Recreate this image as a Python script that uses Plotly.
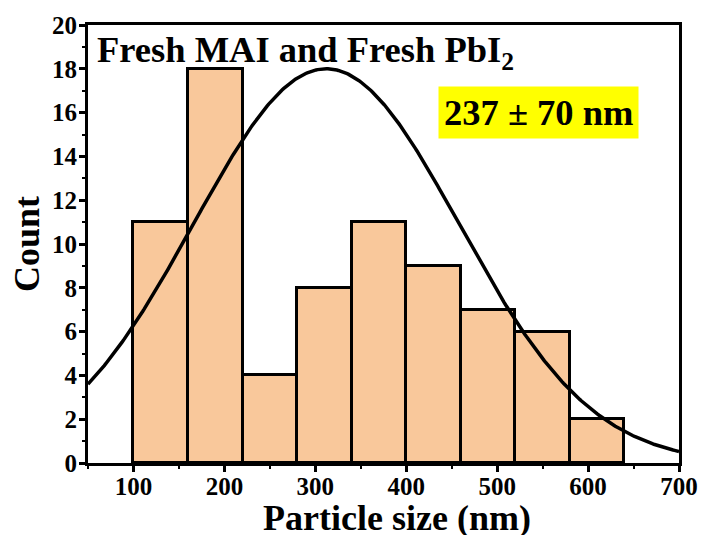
import numpy as np
import plotly.graph_objects as go

# Histogram data (bin left edges, nm) and counts
bin_left = [100, 160, 220, 280, 340, 400, 460, 520, 580]
bin_width = 60
counts = [11, 18, 4, 8, 11, 9, 7, 6, 2]

# Normal fit parameters
fit_center = 312
fit_sigma = 146
fit_amplitude = 18

x_ticks = [100, 200, 300, 400, 500, 600, 700]
y_ticks = [0, 2, 4, 6, 8, 10, 12, 14, 16, 18, 20]

centers = [b + bin_width / 2 for b in bin_left]
xf = np.linspace(50, 700, 400)
yf = fit_amplitude * np.exp(-(xf - fit_center) ** 2 / (2 * fit_sigma ** 2))

FONT = "Liberation Serif"

fig = go.Figure()
fig.add_trace(go.Bar(
    x=centers, y=counts, width=[bin_width] * len(counts),
    marker=dict(color="#F9C89B", line=dict(color="black", width=3)),
    showlegend=False,
))
fig.add_trace(go.Scatter(
    x=xf, y=yf, mode="lines", line=dict(color="black", width=3.5),
    showlegend=False,
))

axis_common = dict(
    showline=True, linecolor="black", linewidth=3, mirror=True,
    ticks="outside", tickwidth=3, ticklen=6, tickcolor="black",
    showgrid=False, zeroline=False, automargin=False,
    tickfont=dict(family=FONT, size=25, color="black", weight="bold"),
)

fig.update_layout(
    width=702, height=535,
    margin=dict(l=88, r=23, t=25, b=72),
    paper_bgcolor="white", plot_bgcolor="white",
    font=dict(family=FONT, color="black"),
    bargap=0,
    xaxis=dict(
        range=[50, 700], tickvals=x_ticks, ticklabelstandoff=-7,
        minor=dict(dtick=50, ticks="outside", ticklen=3, tickwidth=2, tickcolor="black"),
        **axis_common,
    ),
    yaxis=dict(
        range=[0, 20], tickvals=y_ticks, ticklabelstandoff=-3,
        minor=dict(dtick=1, ticks="outside", ticklen=3, tickwidth=2, tickcolor="black"),
        **axis_common,
    ),
    annotations=[
        dict(x=0.523, y=0, xref="paper", yref="paper", xanchor="center", yanchor="middle",
             yshift=-55, text="<b>Particle size (nm)</b>", showarrow=False,
             font=dict(family=FONT, size=36, color="black")),
        dict(x=0, y=0.5, xref="paper", yref="paper", xanchor="center", yanchor="middle",
             xshift=-61, textangle=-90, text="<b>Count</b>", showarrow=False,
             font=dict(family=FONT, size=36, color="black")),
        dict(x=0.012, y=0.995, xref="paper", yref="paper", xanchor="left", yanchor="top",
             text="<b>Fresh MAI and Fresh PbI<sub>2</sub></b>", showarrow=False,
             font=dict(family=FONT, size=36.5, color="black")),
        dict(x=0.762, y=0.80, xref="paper", yref="paper", xanchor="center", yanchor="middle",
             text="<b>237 ± 70 nm</b>", showarrow=False, bgcolor="#FFFF00",
             borderpad=5, font=dict(family=FONT, size=36.5, color="black")),
    ],
)

# remove the browser's default 8px body margin so the figure fills the window
fig.write_html("out.html", config={"displayModeBar": False},
               post_script="document.body.style.margin='0';")
